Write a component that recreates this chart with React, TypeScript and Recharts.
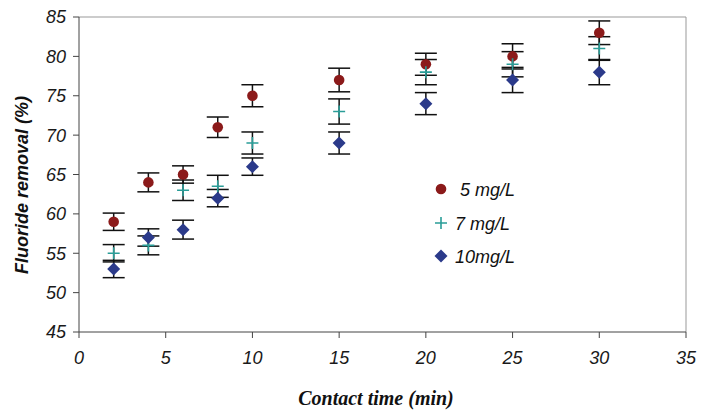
import React from "react";
import {
  ScatterChart,
  Scatter,
  XAxis,
  YAxis,
  ErrorBar,
  ReferenceLine,
} from "recharts";

// contact time (min)
const times = [2, 4, 6, 8, 10, 15, 20, 25, 30];

// fluoride removal (%) and error bar half-widths per dose
const removal5 = [59, 64, 65, 71, 75, 77, 79, 80, 83];
const err5 = [1.1, 1.2, 1.1, 1.3, 1.4, 1.5, 1.4, 1.6, 1.5];
const removal7 = [55, 56, 63, 63.5, 69, 73, 78, 79, 81];
const err7 = [1.1, 1.2, 1.3, 1.4, 1.4, 1.6, 1.6, 1.6, 1.5];
const removal10 = [53, 57, 58, 62, 66, 69, 74, 77, 78];
const err10 = [1.1, 1.1, 1.2, 1.1, 1.1, 1.4, 1.4, 1.6, 1.6];

const xTicks = [0, 5, 10, 15, 20, 25, 30, 35];
const yTicks = [45, 50, 55, 60, 65, 70, 75, 80, 85];

const RED = "#8b1a1a";
const TEAL = "#2a9d98";
const NAVY = "#2b3a8a";

const toPoints = (ys: number[], errs: number[]) =>
  times.map((t, i) => ({ t, y: ys[i], err: errs[i] }));

const Dot = (p: any) => <circle cx={p.cx} cy={p.cy} r={5.3} fill={RED} />;

const Plus = (p: any) => (
  <path
    d={`M${p.cx - 6},${p.cy}H${p.cx + 6}M${p.cx},${p.cy - 6}V${p.cy + 6}`}
    stroke={TEAL}
    strokeWidth={1.6}
    fill="none"
  />
);

const Diamond = (p: any) => (
  <path
    d={`M${p.cx},${p.cy - 6.5}L${p.cx + 6.5},${p.cy}L${p.cx},${p.cy + 6.5}L${p.cx - 6.5},${p.cy}Z`}
    fill={NAVY}
  />
);

const tickStyle = {
  fontFamily: "Liberation Sans, Arial, sans-serif",
  fontStyle: "italic",
  fontSize: 18,
  fill: "#1a1a1a",
};

const legendItems = [
  { label: "5 mg/L", Shape: Dot, textX: 28, cy: 10 },
  { label: "7 mg/L", Shape: Plus, textX: 23, cy: 44 },
  { label: "10mg/L", Shape: Diamond, textX: 23, cy: 77 },
];

function LegendBox() {
  return (
    <svg width={110} height={95}>
      {legendItems.map(({ label, Shape, textX, cy }) => (
        <g key={label}>
          <Shape cx={9} cy={cy} />
          <text x={textX} y={cy + 7} style={{ ...tickStyle, fill: "#111" }}>
            {label}
          </text>
        </g>
      ))}
    </svg>
  );
}

export default function App() {
  return (
    <div style={{ position: "absolute", top: 0, left: 0, background: "#fff" }}>
      <ScatterChart
        width={710}
        height={414}
        margin={{ top: 17, right: 24, left: 0, bottom: 0 }}
      >
        <XAxis
          type="number"
          dataKey="t"
          domain={[0, 35]}
          ticks={xTicks}
          height={82}
          tickSize={6}
          tickMargin={13}
          stroke="#444"
          tick={tickStyle}
          label={{
            content: () => (
              <text
                x={376}
                y={405}
                textAnchor="middle"
                style={{
                  fontFamily: "Liberation Serif, Times New Roman, serif",
                  fontStyle: "italic",
                  fontWeight: "bold",
                  fontSize: 20,
                  fill: "#111",
                }}
              >
                Contact time (min)
              </text>
            ),
          }}
        />
        <YAxis
          type="number"
          dataKey="y"
          domain={[45, 85]}
          ticks={yTicks}
          width={79}
          tickSize={6}
          tickMargin={7}
          stroke="#444"
          tick={tickStyle}
          label={{
            content: () => (
              <text
                x={28}
                y={185}
                transform="rotate(-90 28 185)"
                textAnchor="middle"
                style={{
                  fontFamily: "Liberation Sans, Arial, sans-serif",
                  fontStyle: "italic",
                  fontWeight: "bold",
                  fontSize: 18,
                  fill: "#111",
                }}
              >
                Fluoride removal (%)
              </text>
            ),
          }}
        />
        <ReferenceLine y={85} stroke="#999" />
        <ReferenceLine x={35} stroke="#999" />
        <Scatter
          name="5 mg/L"
          data={toPoints(removal5, err5)}
          shape={Dot}
          isAnimationActive={false}
        >
          <ErrorBar dataKey="err" direction="y" width={11} stroke="#111" strokeWidth={1.5} />
        </Scatter>
        <Scatter
          name="7 mg/L"
          data={toPoints(removal7, err7)}
          shape={Plus}
          isAnimationActive={false}
        >
          <ErrorBar dataKey="err" direction="y" width={11} stroke="#111" strokeWidth={1.5} />
        </Scatter>
        <Scatter
          name="10mg/L"
          data={toPoints(removal10, err10)}
          shape={Diamond}
          isAnimationActive={false}
        >
          <ErrorBar dataKey="err" direction="y" width={11} stroke="#111" strokeWidth={1.5} />
        </Scatter>
      </ScatterChart>
      <div style={{ position: "absolute", left: 432, top: 179 }}>
        <LegendBox />
      </div>
    </div>
  );
}
